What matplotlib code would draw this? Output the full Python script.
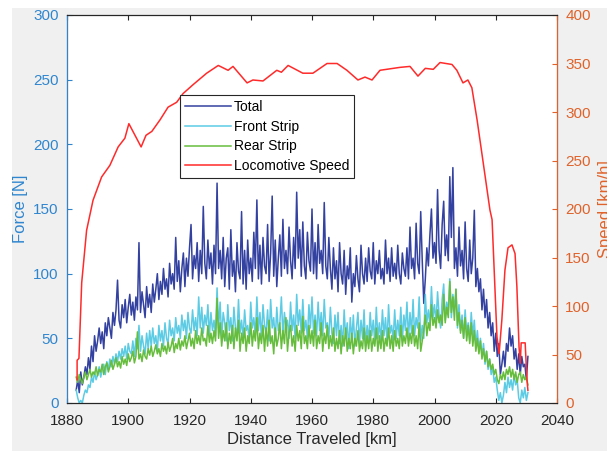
import matplotlib.pyplot as plt
from matplotlib.patches import Rectangle

plt.rcParams["font.family"] = ["Liberation Sans", "DejaVu Sans"]

# force samples every 0.5 km, starting at km 1883
km_start = 1883.0
km_step = 0.5
total = [
    10, 18, 8, 24, 14, 20, 28, 22, 35, 26,
    44, 32, 52, 40, 48, 58, 46, 55, 42, 62,
    52, 66, 58, 50, 70, 60, 72, 95, 64, 58,
    76, 66, 80, 62, 74, 84, 68, 78, 64, 82,
    72, 124, 70, 86, 76, 66, 90, 74, 84, 70,
    92, 78, 88, 100, 80, 94, 84, 104, 88, 96,
    82, 108, 92, 100, 88, 128, 94, 110, 86, 104,
    116, 90, 112, 98, 120, 138, 96, 114, 104, 124,
    94, 118, 100, 152, 108, 96, 126, 104, 116, 92,
    122, 100, 170, 104, 118, 96, 128, 90, 112, 120,
    88, 134, 98, 110, 86, 124, 102, 96, 148, 92,
    118, 88, 126, 100, 112, 94, 132, 104, 157, 96,
    122, 92, 128, 106, 100, 138, 94, 116, 160, 98,
    126, 90, 112, 130, 98, 142, 104, 118, 100, 136,
    110, 96, 128, 104, 163, 112, 134, 98, 140, 106,
    96, 132, 110, 102, 150, 100, 124, 96, 138, 108,
    118, 100, 155, 106, 96, 128, 104, 88, 120, 96,
    110, 86, 124, 100, 92, 118, 84, 106, 96, 120,
    78, 100, 90, 114, 96, 86, 122, 100, 92, 112,
    94, 120, 102, 96, 124, 92, 110, 100, 118, 96,
    104, 92, 126, 100, 112, 94, 120, 98, 108, 96,
    122, 100, 92, 116, 104, 98, 120, 96, 136, 104,
    112, 96, 139, 108, 100, 148, 110, 77, 96, 120,
    106, 130, 150, 112, 124, 108, 165, 118, 104, 138,
    156, 114, 130, 110, 175, 128, 182, 104, 120, 98,
    136, 106, 118, 96, 140, 104, 94, 126, 100, 112,
    149, 90, 104, 86, 96, 72, 88, 66, 80, 58,
    70, 52, 62, 40, 54, 36, 46, 22, 30, 40,
    28, 46, 40, 58, 44, 52, 34, 42, 26, 38,
    22, 36, 28, 30, 18, 36,
]
front = [
    10, 4, 0, 2, 0, 6, 10, 8, 14, 12,
    20, 16, 24, 18, 22, 28, 20, 26, 30, 22,
    32, 26, 34, 28, 36, 30, 38, 32, 40, 34,
    42, 36, 44, 34, 46, 40, 38, 48, 36, 50,
    42, 60, 40, 52, 44, 38, 54, 42, 56, 44,
    58, 46, 52, 40, 60, 48, 56, 44, 62, 50,
    46, 64, 52, 58, 48, 66, 54, 60, 50, 68,
    56, 64, 50, 70, 58, 54, 72, 56, 66, 52,
    82, 58, 74, 54, 68, 60, 76, 52, 70, 56,
    64, 52, 89, 58, 78, 50, 70, 62, 48, 76,
    56, 66, 48, 74, 58, 52, 80, 54, 64, 50,
    72, 56, 60, 48, 78, 58, 66, 52, 82, 56,
    70, 50, 76, 60, 54, 72, 48, 80, 58, 66,
    48, 74, 56, 62, 82, 52, 70, 58, 64, 50,
    78, 56, 68, 50, 84, 60, 72, 54, 80, 56,
    64, 50, 76, 58, 82, 54, 68, 52, 78, 56,
    70, 52, 80, 58, 62, 50, 74, 54, 46, 68,
    52, 70, 46, 60, 44, 72, 50, 62, 42, 66,
    48, 68, 44, 58, 70, 46, 64, 50, 72, 44,
    60, 48, 70, 52, 64, 46, 74, 50, 62, 48,
    72, 52, 66, 46, 76, 54, 60, 48, 72, 50,
    64, 52, 74, 48, 68, 56, 78, 50, 70, 54,
    80, 52, 66, 58, 82, 48, 60, 50, 84, 62,
    72, 60, 90, 66, 76, 62, 86, 68, 58, 80,
    92, 64, 78, 70, 96, 66, 84, 72, 88, 58,
    76, 56, 68, 50, 72, 54, 62, 48, 70, 52,
    64, 44, 56, 40, 50, 36, 46, 30, 40, 26,
    34, 22, 28, 16, 20, 10, 2, 8, 0, 6,
    16, 8, 20, 12, 18, 10, 22, 14, 18, 4,
    0, 10, 4, 12, 2, 8,
]
rear = [
    20, 16, 22, 18, 15, 20, 24, 18, 22, 26,
    20, 24, 22, 28, 21, 26, 24, 30, 22, 28,
    31, 24, 28, 33, 26, 30, 35, 28, 32, 27,
    36, 30, 34, 29, 38, 32, 35, 40, 31, 36,
    55, 34, 38, 32, 41, 36, 34, 42, 37, 44,
    36, 40, 45, 38, 42, 36, 46, 40, 44, 38,
    47, 40, 44, 50, 39, 46, 42, 50, 41, 48,
    44, 52, 42, 48, 54, 44, 50, 42, 56, 46,
    52, 45, 58, 48, 50, 44, 60, 47, 54, 46,
    56, 48, 81, 50, 62, 44, 56, 48, 62, 42,
    54, 46, 60, 42, 58, 48, 64, 40, 54, 46,
    58, 40, 52, 46, 62, 44, 56, 48, 66, 42,
    54, 46, 60, 40, 58, 44, 64, 46, 52, 38,
    58, 44, 50, 62, 42, 56, 46, 66, 40, 54,
    60, 44, 52, 40, 60, 48, 56, 42, 67, 46,
    52, 42, 60, 46, 56, 44, 64, 42, 52, 46,
    62, 40, 54, 46, 60, 42, 52, 44, 58, 40,
    50, 42, 56, 38, 52, 44, 58, 40, 50, 42,
    54, 38, 50, 44, 56, 40, 48, 42, 58, 40,
    52, 42, 56, 40, 50, 44, 58, 40, 52, 42,
    56, 40, 50, 44, 58, 42, 52, 40, 56, 44,
    50, 42, 60, 44, 52, 46, 58, 44, 54, 46,
    60, 44, 52, 42, 62, 40, 48, 56, 68, 52,
    62, 56, 76, 60, 66, 58, 72, 62, 68, 60,
    84, 62, 74, 66, 94, 70, 82, 64, 88, 60,
    70, 54, 64, 50, 66, 48, 60, 46, 62, 44,
    56, 40, 50, 38, 48, 34, 42, 32, 40, 28,
    34, 26, 30, 22, 26, 18, 15, 22, 18, 24,
    18, 26, 22, 28, 20, 26, 18, 24, 16, 22,
    24, 16, 22, 18, 20, 14,
]


def km_axis(values):
    return [km_start + km_step * i for i in range(len(values))]


# locomotive speed trace
speed_km = [
    1883.3, 1883.3, 1883.9, 1884.8, 1886.4, 1888.5, 1891.3, 1894.0, 1896.7,
    1898.9, 1900.2, 1904.2, 1905.8, 1907.7, 1910.4, 1913.0, 1915.8, 1917.9,
    1921.1, 1925.6, 1929.4, 1932.6, 1934.2, 1938.8, 1940.7, 1944.0, 1948.5,
    1950.0, 1952.2, 1957.0, 1960.3, 1964.9, 1968.2, 1971.4, 1975.0, 1977.3,
    1979.6, 1982.2, 1988.7, 1992.0, 1994.6, 1997.0, 1999.6, 2001.8, 2005.7,
    2007.3, 2009.3, 2010.9, 2012.2, 2013.9, 2015.8, 2018.1, 2018.8, 2020.4,
    2021.1, 2022.0, 2023.0, 2024.0, 2025.3, 2026.3, 2026.9, 2027.6, 2028.0,
    2028.3, 2029.6, 2030.2, 2030.5,
]
speed = [
    24, 44, 46, 124, 178, 209, 233, 245, 264,
    273, 288, 264, 276, 280, 292, 305, 310, 319,
    328, 340, 348, 343, 347, 330, 333, 332, 343,
    341, 348, 340, 340, 350, 350, 343, 333, 336,
    333, 343, 346, 347, 337, 345, 344, 351, 349,
    343, 330, 333, 325, 292, 250, 199, 189, 68,
    51, 86, 137, 160, 163, 154, 120, 58, 41,
    62, 62, 24, 13,
]

LEFT_C = "#2f86cf"
RIGHT_C = "#e0622a"

fig = plt.figure(figsize=(6.07, 4.51), dpi=100, facecolor="#f0f0f0")
# thin white margin seen on the left and top of the original export
fig.add_artist(Rectangle((0, 0), 12 / 607, 1, transform=fig.transFigure,
                         facecolor="white", edgecolor="none", zorder=-1))
fig.add_artist(Rectangle((0, 1 - 8 / 451), 1, 8 / 451, transform=fig.transFigure,
                         facecolor="white", edgecolor="none", zorder=-1))

ax = fig.add_axes([67 / 607, 48 / 451, 490 / 607, 388 / 451])
ax2 = ax.twinx()

h1, = ax.plot(km_axis(total), total, color="#3341a0", lw=1.1, label="Total")
h2, = ax.plot(km_axis(front), front, color="#5ccbe4", lw=1.1, label="Front Strip")
h3, = ax.plot(km_axis(rear), rear, color="#66bd3c", lw=1.1, label="Rear Strip")
h4, = ax2.plot(speed_km, speed, color="#ff2a2a", lw=1.1, label="Locomotive Speed")

ax.set_xlim(1880, 2040)
ax.set_ylim(0, 300)
ax2.set_ylim(0, 400)
ax.set_xticks(range(1880, 2041, 20))
ax.set_yticks(range(0, 301, 50))
ax2.set_yticks(range(0, 401, 50))

ax.set_xlabel("Distance Traveled [km]", fontsize=12, color="#262626", labelpad=3)
ax.set_ylabel("Force [N]", fontsize=12, color=LEFT_C)
ax2.set_ylabel("Speed [km/h]", fontsize=12, color=RIGHT_C, labelpad=5)

ax.tick_params(axis="x", direction="in", top=True, labelsize=11,
               colors="#262626", pad=8)
ax.tick_params(axis="y", direction="in", labelsize=11, colors=LEFT_C, pad=6)
ax2.tick_params(axis="y", direction="in", labelsize=11, colors=RIGHT_C, pad=6)
ax2.spines["left"].set_color(LEFT_C)
ax2.spines["right"].set_color(RIGHT_C)
ax2.spines["top"].set_color("#262626")
ax2.spines["bottom"].set_color("#262626")

leg = ax2.legend(handles=[h1, h2, h3, h4], loc="upper left",
                 bbox_to_anchor=(0.231, 0.794), borderaxespad=0, fontsize=10,
                 fancybox=False, framealpha=1, edgecolor="#262626",
                 borderpad=0.35, labelspacing=0.42, handlelength=3.3,
                 handletextpad=0.2)
leg.get_frame().set_linewidth(0.8)

fig.savefig("out.png", dpi=100, facecolor=fig.get_facecolor())
